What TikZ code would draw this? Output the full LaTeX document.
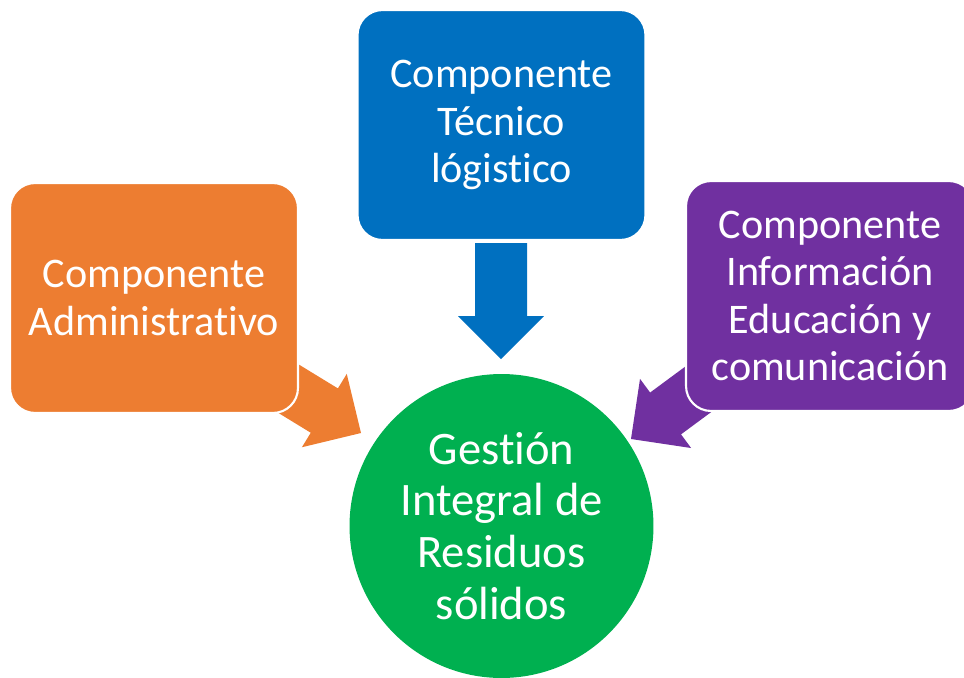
\documentclass[tikz,border=0pt]{standalone}
\usepackage{fontspec}
\setmainfont{Carlito}[Ligatures=NoCommon]
\usetikzlibrary{calc}
\definecolor{admOrange}{HTML}{ED7D31}
\definecolor{tecBlue}{HTML}{0070C0}
\definecolor{infPurple}{HTML}{7030A0}
\definecolor{gestGreen}{HTML}{00B050}
\newcommand{\shaftw}{0.52cm}
\newcommand{\headw}{0.86cm}
\newcommand{\headl}{0.86cm}
% block arrow: name, colour, tail, tip
\newcommand{\blockarrow}[4]{%
\coordinate (#1-base) at ($(#4)!\headl!(#3)$);
\fill[#2] ($(#3)!\shaftw!90:(#4)$) -- ($(#1-base)!\shaftw!90:(#4)$)
  -- ($(#1-base)!\headw!90:(#4)$) -- (#4)
  -- ($(#1-base)!\headw!-90:(#4)$) -- ($(#1-base)!\shaftw!-90:(#4)$)
  -- ($(#3)!\shaftw!-90:(#4)$) -- cycle;}
\tikzset{
  compbox/.style={rectangle, rounded corners=0.5cm, draw=white, line width=1.2pt,
    minimum width=5.76cm, minimum height=4.6cm, inner sep=0pt,
    text=white, align=center, font=\fontsize{24}{27}\selectfont},
  gestion/.style={circle, fill=gestGreen, minimum size=6.08cm, inner sep=0pt,
    text=white, align=center, font=\fontsize{26.5}{29.5}\selectfont}
}
\begin{document}
\begin{tikzpicture}[x=0.02cm, y=-0.02cm]
\path[use as bounding box, clip] (0,0) rectangle (964,677);
% arrows under the boxes
\coordinate (tecTail) at (501,243);
\coordinate (tecTip) at (501,359);
\coordinate (admTail) at (240,359);
\coordinate (admTip) at (361,433);
\coordinate (infTail) at (746,354);
\coordinate (infTip) at (631,439);
\blockarrow{tecArrow}{tecBlue}{tecTail}{tecTip}
\blockarrow{admArrow}{admOrange}{admTail}{admTip}
\blockarrow{infArrow}{infPurple}{infTail}{infTip}
% boxes
\node[compbox, fill=admOrange] (adm) at (154,298) {Componente\\Administrativo};
\node[compbox, fill=tecBlue] (tec) at (501.5,125) {Componente\\Técnico\\lógistico};
\node[compbox, fill=infPurple] (inf) at (830,296) {Componente\\Información\\Educación y\\comunicación};
\node[gestion] (gest) at (501.5,526) {Gestión\\Integral de\\Residuos\\sólidos};
\end{tikzpicture}
\end{document}
